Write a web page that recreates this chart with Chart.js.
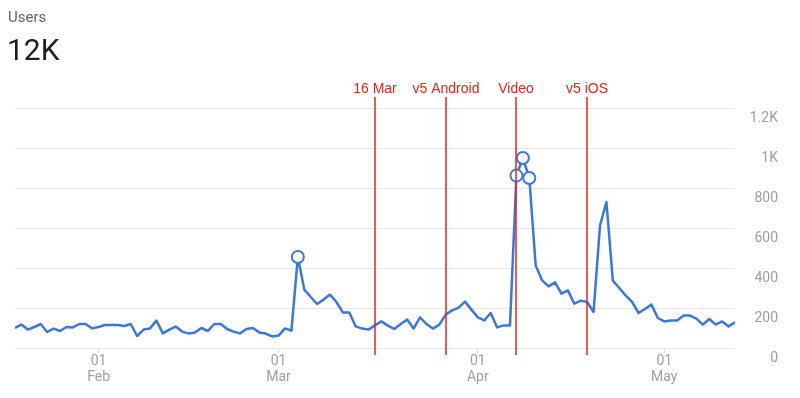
<!DOCTYPE html>
<html>
<head>
<meta charset="utf-8">
<script src="https://cdn.jsdelivr.net/npm/chart.js@4"></script>
<style>
  body { margin: 0; background: #fff; font-family: Roboto, sans-serif; }
  #wrap { position: relative; width: 800px; height: 398px; overflow: hidden; }
  #title { position: absolute; left: 8px; top: 8px; font-size: 15px; color: #5f6368; }
  #total { position: absolute; left: 7px; top: 32px; font-size: 30px; color: #202124; }
  canvas { position: absolute; left: 0; top: 0; }
</style>
</head>
<body>
<div id="wrap">
  <canvas id="chart" width="800" height="398"></canvas>
  <div id="title">Users</div>
  <div id="total">12K</div>
</div>
<script>
// daily users, starting 19 Jan (day 0)
const users = [
    100, 117, 92, 105, 120, 80, 97, 85, 105, 103,
    120, 120, 98, 105, 115, 115, 115, 110, 120, 60,
    92, 98, 137, 73, 92, 107, 82, 73, 78, 100,
    85, 120, 120, 95, 82, 73, 95, 100, 78, 72,
    58, 62, 98, 87, 455, 292, 255, 220, 242, 267,
    230, 178, 178, 108, 97, 92, 113, 133, 112, 95,
    120, 142, 97, 153, 120, 97, 117, 167, 188, 202,
    232, 192, 153, 138, 175, 103, 113, 113, 862, 950,
    850, 412, 338, 308, 328, 272, 288, 222, 237, 230,
    180, 612, 730, 337, 300, 262, 230, 175, 195, 217,
    150, 133, 138, 138, 163, 162, 147, 117, 145, 117,
    133, 108, 128
];

// days with a circle marker
const markedDays = [44, 78, 79, 80];

// month ticks on the x axis
const monthTickDays = [13, 41, 72, 101];
const monthTickLabels = [['01', 'Feb'], ['01', 'Mar'], ['01', 'Apr'], ['01', 'May']];

// annotation lines
const eventDays = [56, 67, 78, 89];
const eventLabels = ['16 Mar', 'v5 Android', 'Video', 'v5 iOS'];

const lineColor = '#3b78d8';
const eventColor = '#e8231d';
const tickColor = '#9e9e9e';

const points = users.map((v, i) => ({ x: i, y: v }));

const eventLines = {
    id: 'eventLines',
    afterDatasetsDraw(chart) {
        const ctx = chart.ctx;
        const xs = chart.scales.x;
        const area = chart.chartArea;
        ctx.save();
        ctx.strokeStyle = eventColor;
        ctx.fillStyle = eventColor;
        ctx.lineWidth = 1.5;
        ctx.font = '14px "Liberation Sans", Arial, sans-serif';
        ctx.textAlign = 'center';
        ctx.textBaseline = 'alphabetic';
        eventDays.forEach((d, i) => {
            const px = Math.round(xs.getPixelForValue(d));
            ctx.beginPath();
            ctx.moveTo(px, area.top - 11);
            ctx.lineTo(px, area.bottom + 7);
            ctx.stroke();
            ctx.fillText(eventLabels[i], px, area.top - 15);
        });
        ctx.restore();
    }
};

new Chart(document.getElementById('chart'), {
    type: 'line',
    data: {
        datasets: [{
            data: points,
            borderColor: lineColor,
            borderWidth: 2.5,
            borderJoinStyle: 'round',
            tension: 0,
            pointRadius: users.map((v, i) => markedDays.includes(i) ? 6 : 0),
            pointBackgroundColor: '#fff',
            pointBorderColor: lineColor,
            pointBorderWidth: 2
        }]
    },
    options: {
        responsive: false,
        animation: false,
        layout: { padding: { left: 15, top: 108, right: 22, bottom: 0 } },
        plugins: { legend: { display: false }, tooltip: { enabled: false } },
        scales: {
            x: {
                type: 'linear',
                min: 0,
                max: users.length - 1,
                afterBuildTicks: (scale) => {
                    scale.ticks = monthTickDays.map(v => ({ value: v }));
                },
                afterFit: (scale) => { scale.height = 50; },
                grid: { drawOnChartArea: false, tickLength: 5, color: '#dcdcdc' },
                border: { display: false },
                ticks: {
                    autoSkip: false,
                    maxRotation: 0,
                    padding: 1,
                    color: tickColor,
                    font: { family: 'Roboto', size: 14, lineHeight: 1.1 },
                    callback: (v) => monthTickLabels[monthTickDays.indexOf(v)]
                }
            },
            y: {
                position: 'right',
                min: 0,
                max: 1200,
                afterFit: (scale) => { scale.width = 43; },
                grid: { color: '#e8e8e8', drawTicks: false },
                border: { display: false },
                ticks: {
                    stepSize: 200,
                    crossAlign: 'far',
                    padding: 0,
                    labelOffset: 10,
                    color: tickColor,
                    font: { family: 'Roboto', size: 14 },
                    callback: (v) => v >= 1000 ? (v / 1000) + 'K' : v
                }
            }
        }
    },
    plugins: [eventLines]
});
</script>
</body>
</html>
